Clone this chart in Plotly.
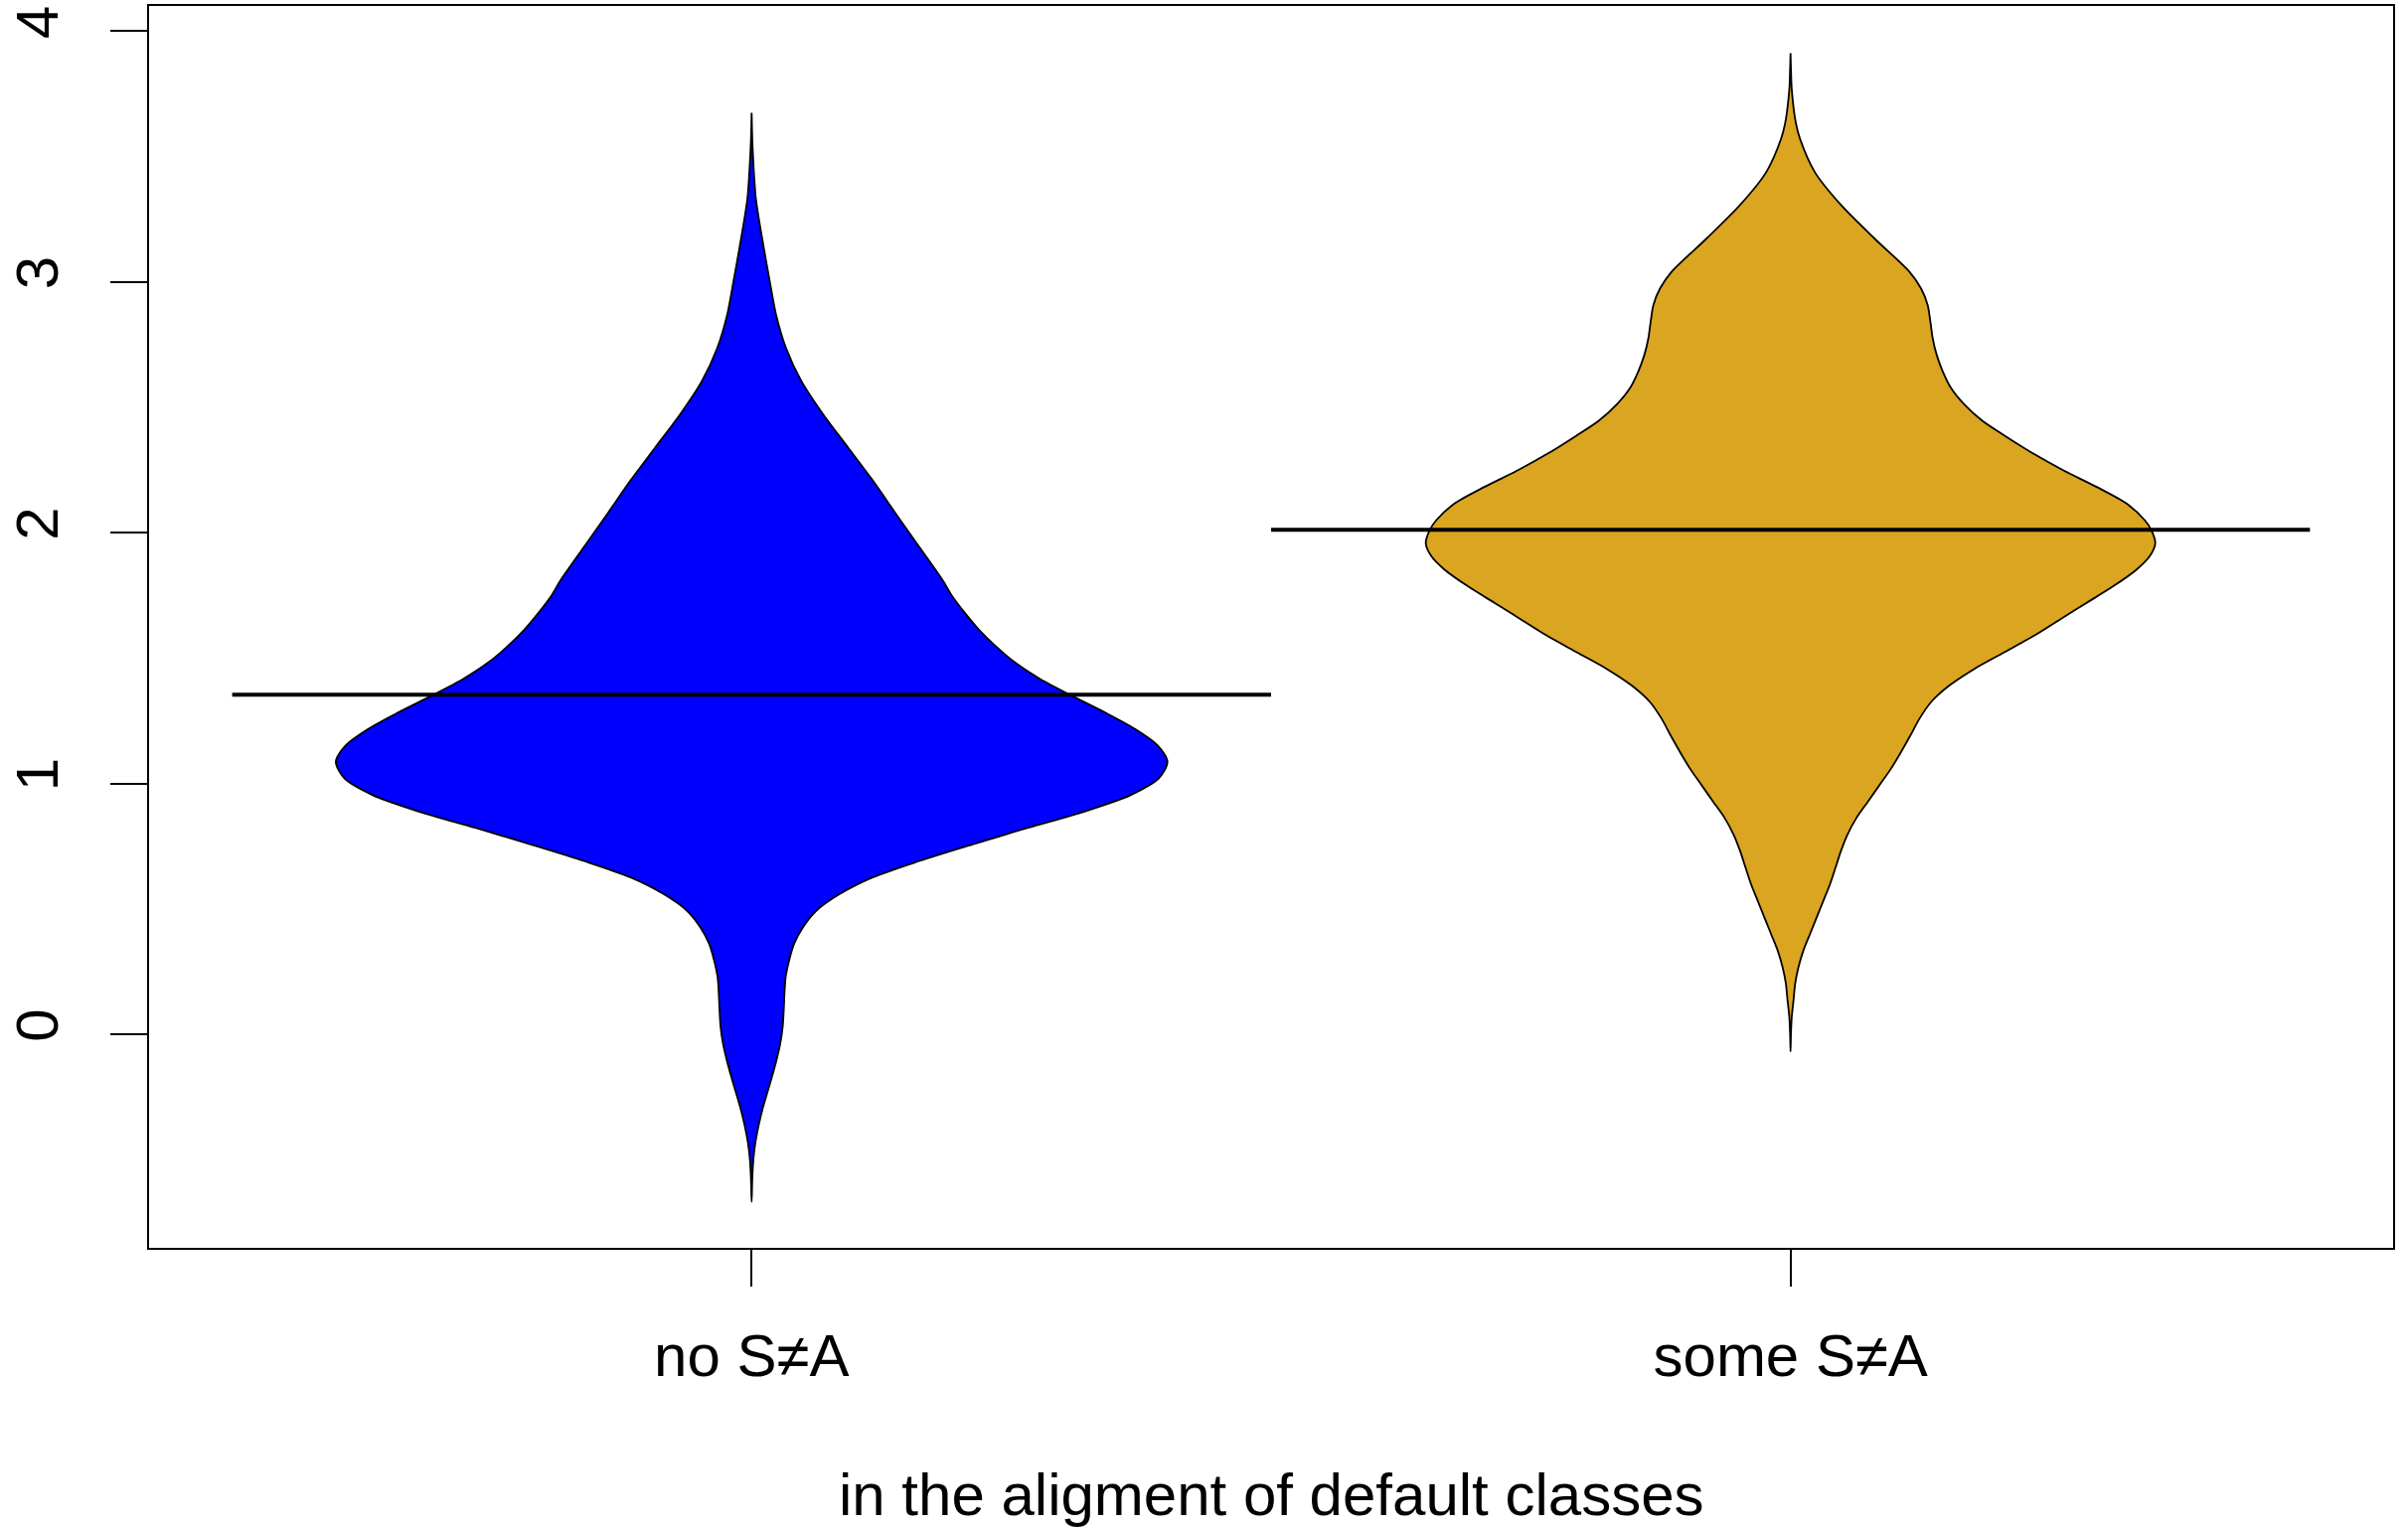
import plotly.graph_objects as go

# ---- data ----
categories = ["no S≠A", "some S≠A"]
positions = [1, 2]
fill_colors = ["#0000FF", "#DAA520"]
means = [1.354, 2.011]
x_title = "in the aligment of default classes"
y_ticks = [0, 1, 2, 3, 4]

# density outline of group 1 (value, half-width in category units)
blue_y = [3.674, 3.60, 3.529, 3.331, 3.133, 3.001, 2.869, 2.737, 2.605, 2.473,
          2.341, 2.209, 2.076, 1.945, 1.813, 1.747, 1.681, 1.615, 1.549, 1.482,
          1.417, 1.350, 1.284, 1.219, 1.152, 1.086, 1.021, 0.954, 0.888, 0.823,
          0.756, 0.690, 0.625, 0.558, 0.492, 0.427, 0.360, 0.294, 0.229, 0.162,
          0.096, 0.030, -0.036, -0.102, -0.168, -0.234, -0.300, -0.366, -0.432,
          -0.498, -0.58, -0.669]
blue_w = [0.0, 0.0004, 0.001, 0.0041, 0.0118, 0.0175, 0.0235, 0.0330, 0.0478, 0.0686,
          0.0925, 0.1164, 0.1387, 0.1610, 0.1834, 0.1930, 0.2050, 0.2184, 0.2344, 0.2535,
          0.2774, 0.3078, 0.3396, 0.3683, 0.3906, 0.4002, 0.3922, 0.3652, 0.3205, 0.2660,
          0.2121, 0.1610, 0.1164, 0.0845, 0.0622, 0.0495, 0.0408, 0.0361, 0.0328, 0.0316,
          0.0309, 0.0299, 0.0276, 0.0240, 0.0197, 0.0150, 0.0104, 0.0066, 0.0036,
          0.0017, 0.0006, 0.0]

# density outline of group 2
gold_y = [3.912, 3.85, 3.766, 3.634, 3.568, 3.436, 3.304, 3.172, 3.040, 2.974,
          2.908, 2.842, 2.776, 2.710, 2.644, 2.578, 2.512, 2.446, 2.380, 2.314,
          2.248, 2.182, 2.116, 2.050, 2.010, 1.958, 1.905, 1.852, 1.786, 1.720,
          1.654, 1.588, 1.522, 1.456, 1.390, 1.324, 1.258, 1.192, 1.126, 1.060,
          0.994, 0.928, 0.862, 0.796, 0.730, 0.664, 0.598, 0.532, 0.466, 0.400,
          0.334, 0.268, 0.202, 0.136, 0.070, 0.0, -0.069]
gold_w = [0.0, 0.0004, 0.0012, 0.0051, 0.0093, 0.0236, 0.0491, 0.0810, 0.1145, 0.1256,
          0.1320, 0.1346, 0.1368, 0.1406, 0.1464, 0.1543, 0.1671, 0.1846, 0.2086, 0.2341,
          0.2628, 0.2947, 0.3234, 0.3409, 0.3473, 0.3511, 0.3456, 0.3329, 0.3106, 0.2851,
          0.2595, 0.2341, 0.2054, 0.1767, 0.1528, 0.1352, 0.1241, 0.1155, 0.1065, 0.0969,
          0.0858, 0.0746, 0.0634, 0.0548, 0.0485, 0.0433, 0.0380, 0.0316, 0.0252, 0.0188,
          0.0124, 0.0077, 0.0045, 0.0029, 0.0012, 0.0004, 0.0]

profiles = [(blue_y, blue_w), (gold_y, gold_w)]

FONT = "Liberation Sans, Arial, Helvetica, sans-serif"

fig = go.Figure()

for pos, (ys, ws), col in zip(positions, profiles, fill_colors):
    # right side bottom->top, then left side top->bottom
    right_y = list(reversed(ys))
    right_x = [pos + w for w in reversed(ws)]
    left_y = list(ys)
    left_x = [pos - w for w in ws]
    fig.add_trace(go.Scatter(
        x=right_x + left_x, y=right_y + left_y,
        mode="lines", fill="toself", fillcolor=col,
        line=dict(color="black", width=1.8, shape="spline", smoothing=0.8),
        hoverinfo="skip", showlegend=False))

for pos, m in zip(positions, means):
    fig.add_trace(go.Scatter(
        x=[pos - 0.5, pos + 0.5], y=[m, m], mode="lines",
        line=dict(color="black", width=4),
        hoverinfo="skip", showlegend=False))

axis_common = dict(
    showgrid=False, zeroline=False, showline=True, mirror=True,
    linecolor="black", linewidth=2, ticks="outside", ticklen=37,
    tickwidth=1.5, tickcolor="black", automargin=False,
    tickfont=dict(family=FONT, size=60, color="black"),
)

fig.update_layout(
    width=2423, height=1539,
    margin=dict(l=150, r=15, t=6, b=283),
    paper_bgcolor="white", plot_bgcolor="white",
    font=dict(family=FONT, size=60, color="black"),
    xaxis=dict(range=[0.42, 2.58], tickvals=positions, ticktext=categories,
               ticklabelstandoff=18, **axis_common),
    yaxis=dict(range=[-0.852, 4.10], tickvals=y_ticks,
               ticktext=[str(v) for v in y_ticks], tickangle=-90,
               ticklabelstandoff=29, **axis_common),
    annotations=[dict(text=x_title, xref="paper", yref="paper", x=0.5, y=-0.199,
                      xanchor="center", yanchor="middle", showarrow=False,
                      font=dict(family=FONT, size=60, color="black"))],
)

fig.write_html("out.html",
               config={"displayModeBar": False},
               post_script="document.body.style.margin='0';document.body.style.overflow='hidden';")
